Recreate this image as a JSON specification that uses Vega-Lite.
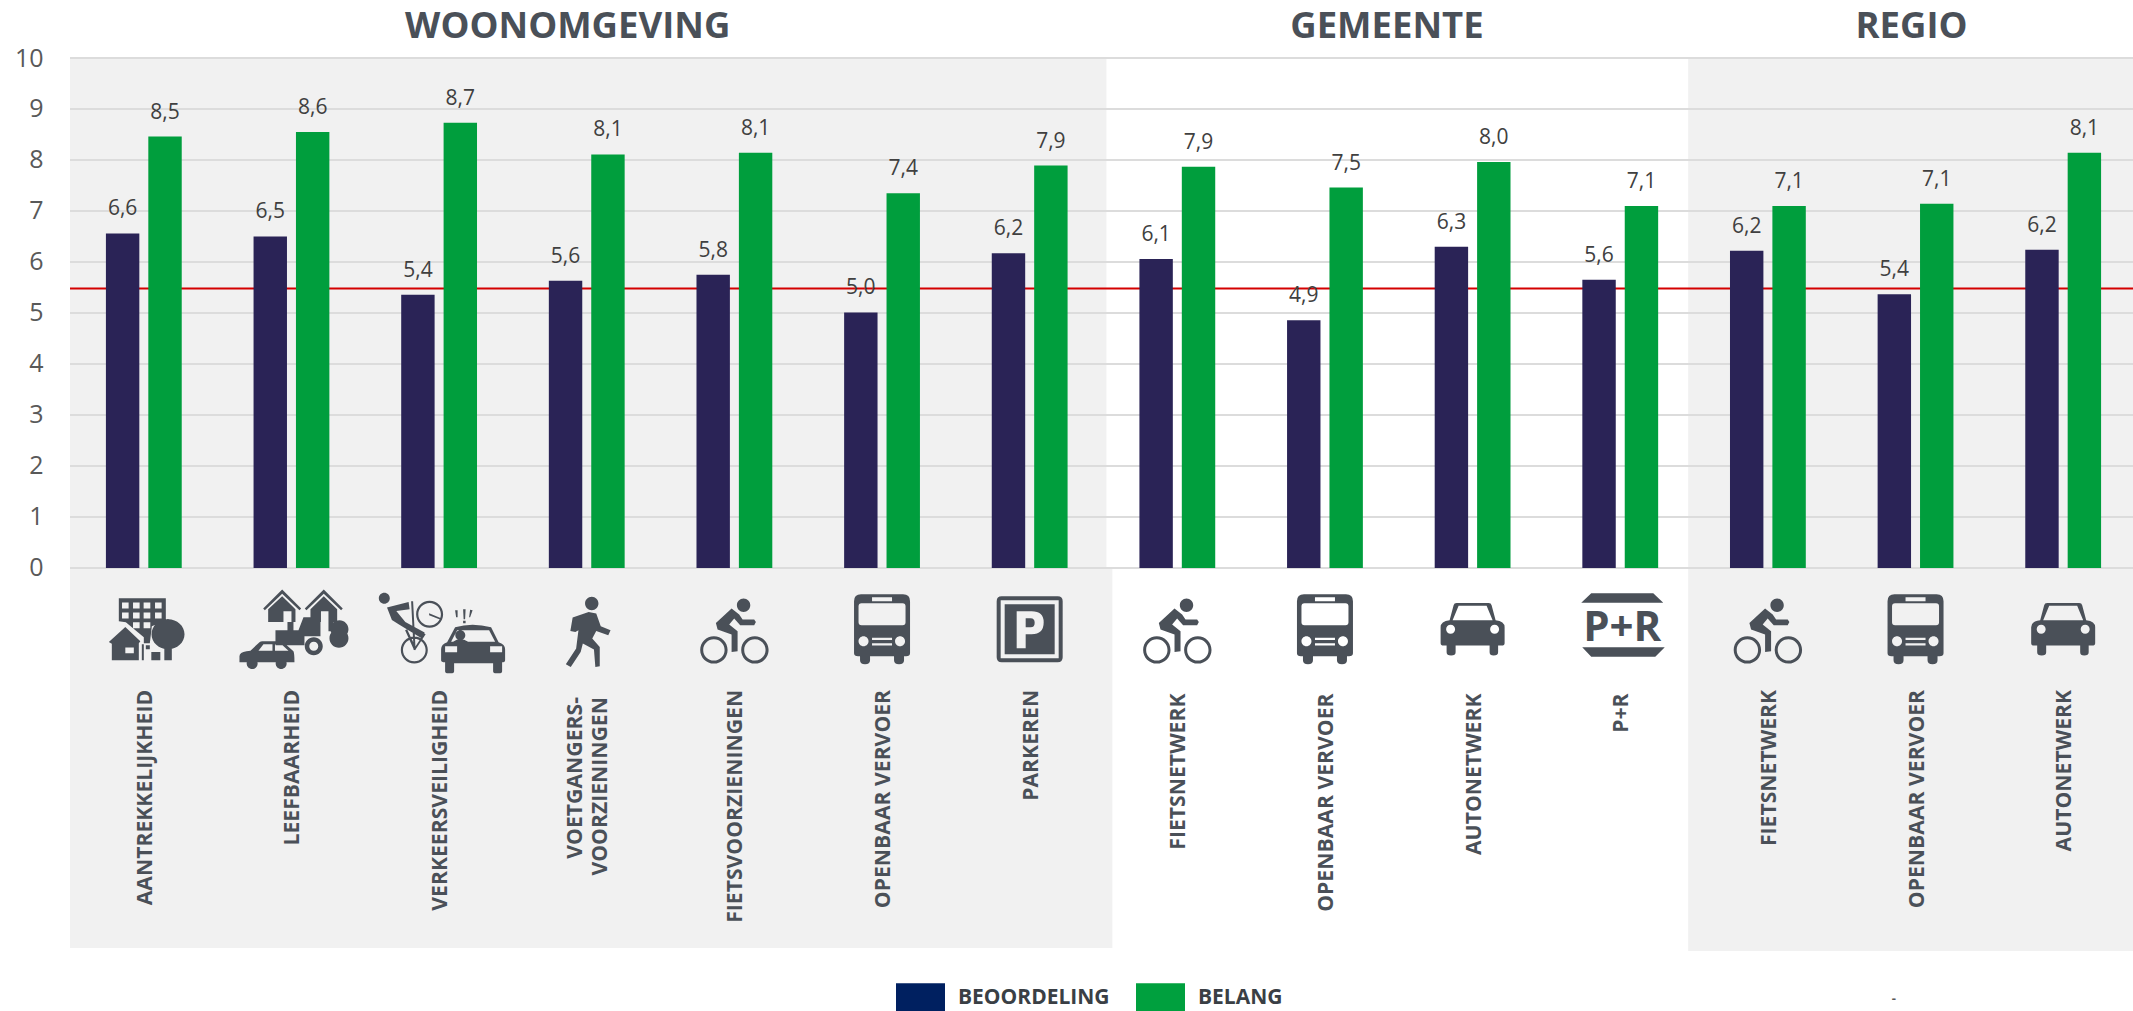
{
"$schema":"https://vega.github.io/schema/vega-lite/v6.json",
"width":2063,"height":893,
"autosize":{"type":"none"},
"padding":{"left":70,"top":58,"right":0,"bottom":60},
"background":"white",
"config":{"view":{"stroke":null},"font":"Open Sans"},
"datasets":{
"items":[
{"item":"w1","section":"WOONOMGEVING","name":"AANTREKKELIJKHEID","icon":"building"},
{"item":"w2","section":"WOONOMGEVING","name":"LEEFBAARHEID","icon":"houses"},
{"item":"w3","section":"WOONOMGEVING","name":"VERKEERSVEILIGHEID","icon":"crash"},
{"item":"w4","section":"WOONOMGEVING","name":"VOETGANGERS-\nVOORZIENINGEN","icon":"walker"},
{"item":"w5","section":"WOONOMGEVING","name":"FIETSVOORZIENINGEN","icon":"bike"},
{"item":"w6","section":"WOONOMGEVING","name":"OPENBAAR VERVOER","icon":"bus"},
{"item":"w7","section":"WOONOMGEVING","name":"PARKEREN","icon":"parking"},
{"item":"g1","section":"GEMEENTE","name":"FIETSNETWERK","icon":"bike"},
{"item":"g2","section":"GEMEENTE","name":"OPENBAAR VERVOER","icon":"bus"},
{"item":"g3","section":"GEMEENTE","name":"AUTONETWERK","icon":"car"},
{"item":"g4","section":"GEMEENTE","name":"P+R","icon":"pr"},
{"item":"r1","section":"REGIO","name":"FIETSNETWERK","icon":"bike"},
{"item":"r2","section":"REGIO","name":"OPENBAAR VERVOER","icon":"bus"},
{"item":"r3","section":"REGIO","name":"AUTONETWERK","icon":"car"}
],
"bars":[
{"item":"w1","series":"BEOORDELING","value":6.56,"label":"6,6"},{"item":"w1","series":"BELANG","value":8.46,"label":"8,5"},
{"item":"w2","series":"BEOORDELING","value":6.50,"label":"6,5"},{"item":"w2","series":"BELANG","value":8.55,"label":"8,6"},
{"item":"w3","series":"BEOORDELING","value":5.36,"label":"5,4"},{"item":"w3","series":"BELANG","value":8.73,"label":"8,7"},
{"item":"w4","series":"BEOORDELING","value":5.63,"label":"5,6"},{"item":"w4","series":"BELANG","value":8.11,"label":"8,1"},
{"item":"w5","series":"BEOORDELING","value":5.75,"label":"5,8"},{"item":"w5","series":"BELANG","value":8.14,"label":"8,1"},
{"item":"w6","series":"BEOORDELING","value":5.01,"label":"5,0"},{"item":"w6","series":"BELANG","value":7.35,"label":"7,4"},
{"item":"w7","series":"BEOORDELING","value":6.17,"label":"6,2"},{"item":"w7","series":"BELANG","value":7.89,"label":"7,9"},
{"item":"g1","series":"BEOORDELING","value":6.06,"label":"6,1"},{"item":"g1","series":"BELANG","value":7.87,"label":"7,9"},
{"item":"g2","series":"BEOORDELING","value":4.86,"label":"4,9"},{"item":"g2","series":"BELANG","value":7.46,"label":"7,5"},
{"item":"g3","series":"BEOORDELING","value":6.30,"label":"6,3"},{"item":"g3","series":"BELANG","value":7.96,"label":"8,0"},
{"item":"g4","series":"BEOORDELING","value":5.65,"label":"5,6"},{"item":"g4","series":"BELANG","value":7.10,"label":"7,1"},
{"item":"r1","series":"BEOORDELING","value":6.22,"label":"6,2"},{"item":"r1","series":"BELANG","value":7.10,"label":"7,1"},
{"item":"r2","series":"BEOORDELING","value":5.37,"label":"5,4"},{"item":"r2","series":"BELANG","value":7.14,"label":"7,1"},
{"item":"r3","series":"BEOORDELING","value":6.24,"label":"6,2"},{"item":"r3","series":"BELANG","value":8.14,"label":"8,1"}
]
},
"layer":[
{
"data":{"values":[
{"from":0,"to":7.02,"top":10,"bottom":0},
{"from":0,"to":7.06,"top":0,"bottom":-7.45},
{"from":10.96,"to":14,"top":10,"bottom":-7.51}
]},
"mark":{"type":"rect","fill":"#f1f1f1"},
"encoding":{
"x":{"field":"from","type":"quantitative","axis":null,"scale":{"domain":[0,14],"range":[0,2067],"nice":false,"zero":false}},
"x2":{"field":"to"},
"y":{"field":"top","type":"quantitative","scale":{"domain":[-7.51,10],"nice":false},
"axis":{"values":[0,1,2,3,4,5,6,7,8,9,10],"format":"d","title":null,"grid":false,"domain":false,"ticks":false,"labelPadding":27,"labelFontSize":25,"labelColor":"#595959","labelFont":"Open Sans"}},
"y2":{"field":"bottom"}
}
},
{
"layer":[
{
"data":{"values":[{"v":0},{"v":1},{"v":2},{"v":3},{"v":4},{"v":5},{"v":6},{"v":7},{"v":8},{"v":9},{"v":10}]},
"mark":{"type":"rule","color":"#dcdcdc","strokeWidth":2},
"encoding":{
"y":{"field":"v","type":"quantitative","title":null}
}
},
{
"data":{"values":[{"v":5.48}]},
"mark":{"type":"rule","color":"#d40000","strokeWidth":2},
"encoding":{"y":{"field":"v","type":"quantitative","title":null}}
},
{
"data":{"name":"bars"},
"mark":{"type":"bar","opacity":0},
"encoding":{
"x":{"field":"item","type":"nominal","axis":null,"scale":{"domain":["w1","w2","w3","w4","w5","w6","w7","g1","g2","g3","g4","r1","r2","r3"],"range":[0,2067],"paddingInner":0,"paddingOuter":0}},
"xOffset":{"field":"series","type":"nominal","scale":{"domain":["BEOORDELING","BELANG"],"paddingInner":0.212,"paddingOuter":0.847}},
"y":{"field":"value","type":"quantitative","title":null},
"color":{"field":"series","type":"nominal","scale":{"domain":["BEOORDELING","BELANG"],"range":["#002060","#00a03e"]},
"legend":{"title":null,"orient":"none","legendX":826,"legendY":915,"direction":"horizontal","columns":2,"padding":0,"symbolType":"M-1,-0.6H1V0.6H-1Z","symbolSize":2401,"symbolOpacity":1,"symbolStrokeWidth":0,"labelFont":"Open Sans","labelFontSize":21,"labelFontWeight":"bold","labelColor":"#3a3f45","labelOffset":13,"columnPadding":26,"labelLimit":300}}
}
},
{
"data":{"name":"bars"},
"mark":{"type":"bar"},
"encoding":{
"x":{"field":"item","type":"nominal"},
"xOffset":{"field":"series","type":"nominal"},
"y":{"field":"value","type":"quantitative","title":null},
"fill":{"field":"series","type":"nominal","legend":null,"scale":{"domain":["BEOORDELING","BELANG"],"range":["#2a2356","#009e3d"]}}
}
},
{
"data":{"name":"bars"},
"mark":{"type":"text","fontSize":21,"color":"#404040","font":"Open Sans","baseline":"alphabetic","dy":-18},
"encoding":{
"x":{"field":"item","type":"nominal"},
"xOffset":{"field":"series","type":"nominal"},
"y":{"field":"value","type":"quantitative","title":null},
"text":{"field":"label","type":"nominal"}
}
},
{
"data":{"name":"items"},
"transform":[{"filter":"datum.icon!=='walker'&&datum.icon!=='crash'&&datum.icon!=='pr'"}],
"mark":{"type":"point","filled":true,"opacity":1,"fill":"#4a5058","size":4},
"encoding":{
"x":{"field":"item","type":"nominal"},
"y":{"datum":-1.2,"type":"quantitative","title":null},
"shape":{"field":"icon","type":"nominal","legend":null,"scale":{"domain":["building","houses","crash","walker","bike","bus","parking","car","pr"],"range":[
"M-25,-31H22V-9L8,-3L6,14H0V8L-18,-7L-25,-8Z M-21.8,-26.7V-20.7H-15.2V-26.7Z M-10.8,-26.7V-20.7H-4.2V-26.7Z M-0.2,-26.7V-20.7H6.5V-26.7Z M11.2,-26.7V-20.7H17.8V-26.7Z M-21.8,-16.7V-10.7H-15.2V-16.7Z M-10.8,-16.7V-10.7H-4.2V-16.7Z M-0.2,-16.7V-10.7H6.5V-16.7Z M11.2,-16.7V-10.7H17.8V-16.7Z M-10.8,-7V-1H-4.2V-7Z M-0.2,-7V-1H6.5V-7Z M-18.5,-2.3L-3.5,12L-5,14V31H-32V14.5L-35,12.7Z M-18.5,18.3V24H-10V18.3Z M-2,15H0V31H-2Z M7.5,22.7H16.5V31H7.5Z M2,16H6V20H2Z M7.7,5a16.5,15 0 1 1 33,0a16.5,15 0 1 1 -33,0Z M14,-3a10,7 0 1 1 20,0a10,7 0 1 1 -20,0Z M20.5,15H28V31H20.5Z",
"M-9.3,-39.7L9.7,-20.7L8,-19L-9.3,-35.5L-26.6,-19L-28.3,-20.7Z M32.3,-39.7L51.3,-20.7L49.6,-19L32.3,-35.5L15,-19L13.3,-20.7Z M-9.3,-33L4,-20V-7.3H-23.3V-20Z M-8,-18V-7.3H0V-18Z M32.3,-33L45.7,-20V-7.3H19V-20Z M29.5,-18V-7.3H37V-18Z M-4,-7.3H2V3H-4Z M37,-7.3H42V2H37Z M-16,1H7L12,-12H29V7H13V16H-16Z M13.3,17a9,9 0 1 1 18,0a9,9 0 1 1 -18,0Z M17.8,17a4.5,4.5 0 1 0 9,0a4.5,4.5 0 1 0 -9,0Z M39,0a9,9 0 1 1 18,0a9,9 0 1 1 -18,0Z M38,9a9.5,9.5 0 1 1 19,0a9.5,9.5 0 1 1 -19,0Z M-52,33V27Q-52,23 -45,22L-41,21.5L-32,13Q-31,12 -29,12H-11Q-9,12 -7,14L2,22Q3,24 3,33Z M-28,15L-33,21.5H-19V15Z M-16.5,15V21.5H-3L-10,15Z M-44.8,34.3a5.5,5.5 0 1 1 11,0a5.5,5.5 0 1 1 -11,0Z M-15.8,34.3a5.5,5.5 0 1 1 11,0a5.5,5.5 0 1 1 -11,0Z",
"M-60.3,-34a5.5,5.5 0 1 1 11,0a5.5,5.5 0 1 1 -11,0Z M-52.1,-24.7L-30.5,-30.3L-29.5,-23L-42.8,-21.3L-33.8,-10.3L-14.5,0.3L-17.1,6.3L-40.5,-8L-47.2,-12.3Z M-23,-18a13.5,13.5 0 1 1 27,0a13.5,13.5 0 1 1 -27,0Z M-20.8,-18a11.3,11.3 0 1 0 22.6,0a11.3,11.3 0 1 0 -22.6,0Z M-38.3,17.7a13.5,13.5 0 1 1 27,0a13.5,13.5 0 1 1 -27,0Z M-36.1,17.7a11.3,11.3 0 1 0 22.6,0a11.3,11.3 0 1 0 -22.6,0Z M-28,-31L-26,-31L-23.5,17.7L-25.5,17.7Z M-34,-2L-32,-3L-24,14L-25,18Z M-15,1L-13.5,2L-24,18L-25.5,17Z M-10,-19L2,-14L1.5,-12.5L-10,-17Z M16,-5Q33,-10 52,-5L59.5,10Q66,12 66,17V28Q66,30 63,30V39Q63,41 60,41H57Q54,41 54,39V31H15V39Q15,41 12,41H9Q6,41 6,39V30Q2,30 2,28V17Q2,12 8,10Z M18,-2L12,9.5H56L50,-2Z M16.2,3a5,5 0 1 1 10,0a5,5 0 1 1 -10,0Z M14,9.5Q21,4 29,9.5Z M6,14V20H18V14Z M51,14V20H63V14Z M16,-22L18.5,-22L18.5,-15L17,-15Z M24,-23H26.5L26,-13H24.5Z M31,-22.5L33.5,-22L31,-15L30,-15Z M24,-11.5H26.5V-9H24Z",
"M-1.7,-28.7a6.7,6.7 0 1 1 13.4,0a6.7,6.7 0 1 1 -13.4,0Z M1.9,-20.3L9.5,-18.7L14,-6L23.8,-2L21.5,3L9.5,-1.3L5.5,6.3L13,14.7L13,34L8.6,34.7L7.2,17.3L-3.9,11.3L-6.1,19.7L-16,34.7L-20.9,32L-10.6,16.3L-8.3,-2L-11.4,-0.3L-16.4,-1.3L-14.1,-14.7Z",
"M-34.2,20.7a13.7,13.7 0 1 1 27.4,0a13.7,13.7 0 1 1 -27.4,0Z M-31.2,20.7a10.7,10.7 0 1 0 21.4,0a10.7,10.7 0 1 0 -21.4,0Z M6.8,20.7a13.7,13.7 0 1 1 27.4,0a13.7,13.7 0 1 1 -27.4,0Z M9.8,20.7a10.7,10.7 0 1 0 21.4,0a10.7,10.7 0 1 0 -21.4,0Z M2.5,-24a6.7,6.7 0 1 1 13.4,0a6.7,6.7 0 1 1 -13.4,0Z M-2.8,-20.7L4.8,-14.7L8.2,-9.7L19.8,-9.7L21.5,-7.3L19.8,-4L5.8,-4L-0.2,-10.7L-5.2,-4.7L3.2,2L3.2,22L-2.8,22.7L-2.8,5.3L-16.8,0.3L-18.5,-6.3Z",
"M-21,-35H21Q28,-35 28,-28V24Q28,27 24,27H22V31Q22,35 17,35Q12,35 12,31V27H-12V31Q-12,35 -17,35Q-22,35 -22,31V27H-24Q-28,27 -28,24V-28Q-28,-35 -21,-35Z M-23.5,-23V-7Q-23.5,-4 -20.5,-4H20.5Q23.5,-4 23.5,-7V-23Q23.5,-26 20.5,-26H-20.5Q-23.5,-26 -23.5,-23Z M-10,-32V-28H10V-32Z M-23.5,12a5,5 0 1 0 10,0a5,5 0 1 0 -10,0Z M13,12a5,5 0 1 0 10,0a5,5 0 1 0 -10,0Z M-10,8.5V10.7H10V8.5Z M-10,14V16.2H10V14Z",
"M-28,-33H28Q33,-33 33,-28V28Q33,33 28,33H-28Q-33,33 -33,28V-28Q-33,-33 -28,-33Z M-29,-29V29H29V-29Z M-25,-25H25V25H-25Z M-13,-18V19H-4V5H2Q14,5 14,-7Q14,-18 2,-18Z M-4,-11H1Q5,-11 5,-6.5Q5,-2 1,-2H-4Z",
"M-16,-26.3H16Q18.5,-26.3 19,-24L23,-9Q32,-8 32,-2V14Q32,16.3 29,16.3H25.5V23Q25.5,26.3 21,26.3Q17,26.3 17,23V16.3H-17V23Q-17,26.3 -21.5,26.3Q-26,26.3 -26,23V16.3H-29Q-32,16.3 -32,14V-2Q-32,-8 -23,-9L-19,-24Q-18.5,-26.3 -16,-26.3Z M-14,-23.5L-20,-9H20L14,-23.5Z M-26.5,0a4.5,4.5 0 1 0 9,0a4.5,4.5 0 1 0 -9,0Z M17.5,0a4.5,4.5 0 1 0 9,0a4.5,4.5 0 1 0 -9,0Z",
"M-29,-31.7H33L43,-22.3H-39Z M-38,22.3H44.5L35,31.7H-29Z"
]}}
}
},
{
"data":{"name":"items"},
"transform":[{"filter":"datum.icon==='walker'||datum.icon==='crash'"}],
"mark":{"type":"point","filled":true,"opacity":1,"fill":"#4a5058","size":4},
"encoding":{
"x":{"field":"item","type":"nominal"},
"y":{"datum":-1.26,"type":"quantitative","title":null},
"shape":{"field":"icon","type":"nominal","legend":null}
}
},
{
"data":{"name":"items"},
"transform":[{"filter":"datum.icon==='pr'"}],
"mark":{"type":"point","filled":true,"opacity":1,"fill":"#4a5058","size":4},
"encoding":{
"x":{"field":"item","type":"nominal"},
"y":{"datum":-1.118,"type":"quantitative","title":null},
"shape":{"field":"icon","type":"nominal","legend":null}
}
},
{
"data":{"values":[{"item":"g4","t":"P+R"}]},
"mark":{"type":"text","font":"Open Sans","fontWeight":"bold","fontSize":42,"color":"#4a5058","baseline":"alphabetic","dx":2},
"encoding":{
"x":{"field":"item","type":"nominal"},
"y":{"datum":-1.43,"type":"quantitative","title":null},
"text":{"field":"t","type":"nominal"}
}
},
{
"data":{"name":"items"},
"transform":[{"filter":"datum.section!=='GEMEENTE'&&datum.icon!=='walker'"}],
"mark":{"type":"text","angle":270,"align":"right","baseline":"middle","font":"Open Sans","fontWeight":"bold","fontSize":21.2,"color":"#4a5058","dy":2},
"encoding":{
"x":{"field":"item","type":"nominal"},
"y":{"datum":-2.39,"type":"quantitative","title":null},
"text":{"field":"name","type":"nominal"}
}
},
{
"data":{"name":"items"},
"transform":[{"filter":"datum.icon==='walker'"}],
"mark":{"type":"text","angle":270,"align":"right","baseline":"middle","font":"Open Sans","fontWeight":"bold","fontSize":21.2,"color":"#4a5058","lineBreak":"\n","lineHeight":25,"dy":-11},
"encoding":{
"x":{"field":"item","type":"nominal"},
"y":{"datum":-2.53,"type":"quantitative","title":null},
"text":{"field":"name","type":"nominal"}
}
},
{
"data":{"name":"items"},
"transform":[{"filter":"datum.section==='GEMEENTE'"}],
"mark":{"type":"text","angle":270,"align":"right","baseline":"middle","font":"Open Sans","fontWeight":"bold","fontSize":21.2,"color":"#4a5058","dy":2},
"encoding":{
"x":{"field":"item","type":"nominal"},
"y":{"datum":-2.46,"type":"quantitative","title":null},
"text":{"field":"name","type":"nominal"}
}
},
{
"data":{"values":[{"item":"w4","t":"WOONOMGEVING"}]},
"mark":{"type":"text","font":"Open Sans","fontWeight":"bold","fontSize":36.5,"color":"#4a5058","baseline":"alphabetic","dx":-19,"dy":-20},
"encoding":{"x":{"field":"item","type":"nominal"},"y":{"datum":10,"type":"quantitative","title":null},"text":{"field":"t","type":"nominal"}}
},
{
"data":{"values":[{"item":"g2","t":"GEMEENTE"}]},
"mark":{"type":"text","font":"Open Sans","fontWeight":"bold","fontSize":36.5,"color":"#4a5058","baseline":"alphabetic","dx":62,"dy":-20},
"encoding":{"x":{"field":"item","type":"nominal"},"y":{"datum":10,"type":"quantitative","title":null},"text":{"field":"t","type":"nominal"}}
},
{
"data":{"values":[{"item":"r2","t":"REGIO"}]},
"mark":{"type":"text","font":"Open Sans","fontWeight":"bold","fontSize":36.5,"color":"#4a5058","baseline":"alphabetic","dx":-4,"dy":-20},
"encoding":{"x":{"field":"item","type":"nominal"},"y":{"datum":10,"type":"quantitative","title":null},"text":{"field":"t","type":"nominal"}}
},
{
"data":{"values":[{"item":"r1","t":"-"}]},
"mark":{"type":"text","font":"Open Sans","fontSize":13,"fontWeight":"bold","color":"#595959","dx":126},
"encoding":{"x":{"field":"item","type":"nominal"},"y":{"datum":-8.45,"type":"quantitative","title":null},"text":{"field":"t","type":"nominal"}}
}
]
}
],
"resolve":{"scale":{"x":"independent"}}
}
